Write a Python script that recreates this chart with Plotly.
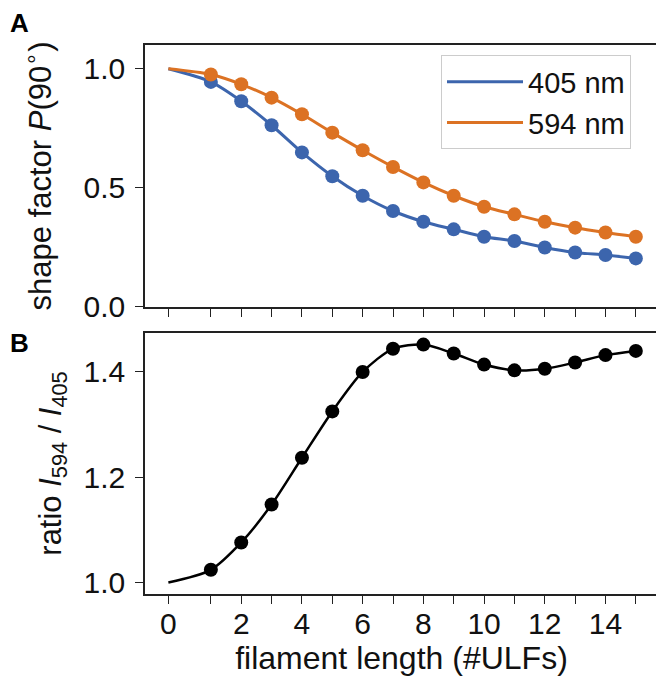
import plotly.graph_objects as go
from plotly.subplots import make_subplots

# ---- data ----
# x position of each filament length; the "0" point sits a bit left of the regular spacing in the reference
length_pos = [-0.4, 1, 2, 3, 4, 5, 6, 7, 8, 9, 10, 11, 12, 13, 14, 15]
tick_pos = [-0.4, 1, 2, 3, 4, 5, 6, 7, 8, 9, 10, 11, 12, 13, 14, 15]
tick_text = ["0", "", "2", "", "4", "", "6", "", "8", "", "10", "", "12", "", "14", ""]

p_405 = [1.0, 0.945, 0.864, 0.763, 0.649, 0.549, 0.467, 0.403, 0.358, 0.326,
         0.295, 0.277, 0.250, 0.229, 0.218, 0.204]
p_594 = [1.0, 0.976, 0.935, 0.879, 0.809, 0.732, 0.658, 0.588, 0.523, 0.467,
         0.421, 0.389, 0.358, 0.333, 0.313, 0.295]
ratio = [1.0, 1.024, 1.076, 1.148, 1.237, 1.325, 1.400, 1.444, 1.452, 1.435,
         1.414, 1.403, 1.406, 1.418, 1.432, 1.440]

series_names = ["405 nm", "594 nm"]
colors = ["#3c65ad", "#dc7223"]

FONT = "Arial, Liberation Sans, sans-serif"

fig = make_subplots(rows=2, cols=1, shared_xaxes=False, vertical_spacing=0.047)

for name, vals, col in zip(series_names, [p_405, p_594], colors):
    fig.add_trace(go.Scatter(x=length_pos, y=vals, mode="lines", name=name,
                             line=dict(color=col, width=3, shape="spline", smoothing=0.8)),
                  row=1, col=1)
    fig.add_trace(go.Scatter(x=length_pos[1:], y=vals[1:], mode="markers", showlegend=False,
                             marker=dict(color=col, size=14, line=dict(width=0))),
                  row=1, col=1)

fig.add_trace(go.Scatter(x=length_pos, y=ratio, mode="lines", showlegend=False,
                         line=dict(color="black", width=2.5, shape="spline", smoothing=0.8)),
              row=2, col=1)
fig.add_trace(go.Scatter(x=length_pos[1:], y=ratio[1:], mode="markers", showlegend=False,
                         marker=dict(color="black", size=14, line=dict(width=0))),
              row=2, col=1)

axis_common = dict(showline=True, linecolor="#222222", linewidth=1.6, mirror=True,
                   ticks="outside", ticklen=8, tickwidth=1.4, tickcolor="#222222",
                   showgrid=False, zeroline=False, automargin=False,
                   tickfont=dict(family=FONT, size=30, color="#111111"))

fig.update_xaxes(range=[-1.17, 15.73], tickmode="array", tickvals=tick_pos,
                 **axis_common)
fig.update_xaxes(ticktext=[""] * len(tick_pos), row=1, col=1)
fig.update_xaxes(ticktext=tick_text, row=2, col=1, ticklabelstandoff=-6,
                 title=dict(text="filament length (#ULFs)", standoff=4,
                            font=dict(family=FONT, size=32, color="#111111")))

fig.update_yaxes(range=[0, 1.1], tickvals=[0.0, 0.5, 1.0], ticktext=["0.0", "0.5", "1.0"],
                 row=1, col=1, ticklabelstandoff=4, **axis_common,
                 title=dict(text="shape factor <i>P</i>(90<sup>∘</sup>)", standoff=23,
                            font=dict(family=FONT, size=31, color="#111111")))
fig.update_yaxes(range=[0.978, 1.474], tickvals=[1.0, 1.2, 1.4], ticktext=["1.0", "1.2", "1.4"],
                 row=2, col=1, ticklabelstandoff=4, **axis_common,
                 title=dict(text="ratio <i>I</i><sub>594</sub> / <i>I</i><sub>405</sub>", standoff=13,
                            font=dict(family=FONT, size=31, color="#111111")))

# The page body adds an 8px offset, so the figure is drawn 8px smaller with shifted margins
fig.update_layout(
    width=656, height=675,
    margin=dict(l=137, r=6, t=37, b=89),
    paper_bgcolor="white", plot_bgcolor="white",
    font=dict(family=FONT, color="#111111"),
    legend=dict(x=0.577, y=0.981, xanchor="left", yanchor="top",
                bgcolor="white", bordercolor="#cccccc", borderwidth=1,
                font=dict(family=FONT, size=29, color="#111111"),
                itemwidth=76, tracegroupgap=0),
    annotations=[
        dict(text="<b>A</b>", xref="paper", yref="paper", x=-0.2665, y=1.040,
             xanchor="left", yanchor="middle", showarrow=False,
             font=dict(family=FONT, size=26, color="black")),
        dict(text="<b>B</b>", xref="paper", yref="paper", x=-0.2665, y=0.458,
             xanchor="left", yanchor="middle", showarrow=False,
             font=dict(family=FONT, size=26, color="black")),
    ],
)

# set domains to match the reference panel positions
fig.update_layout(yaxis=dict(domain=[0.5228, 1.0]), yaxis2=dict(domain=[0.0, 0.4754]))

fig.write_html("out.html")
